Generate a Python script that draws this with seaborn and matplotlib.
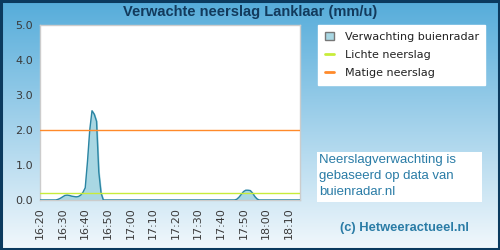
import numpy as np
import pandas as pd
import matplotlib
matplotlib.use("Agg")
import matplotlib.pyplot as plt
import seaborn as sns
from matplotlib.patches import Patch, Rectangle
from matplotlib.lines import Line2D

# ---- data ----
minutes = [0, 5, 7, 8, 9, 10, 11, 12, 13, 14, 15, 16, 17, 18, 19, 20, 21, 22, 23, 24,
           25, 26, 27, 28, 30, 40, 50, 60, 70, 80, 86, 87, 88, 89, 90, 91, 92, 93, 94,
           95, 96, 97, 100, 110, 115]
rain = [0, 0, 0, 0.02, 0.05, 0.09, 0.13, 0.14, 0.13, 0.11, 0.10, 0.09, 0.10, 0.14, 0.22,
        0.35, 1.1, 2.0, 2.55, 2.45, 2.25, 0.8, 0.2, 0, 0, 0, 0, 0, 0, 0, 0, 0.02, 0.08,
        0.16, 0.24, 0.28, 0.28, 0.27, 0.2, 0.1, 0.03, 0, 0, 0, 0]
tick_minutes = [0, 10, 20, 30, 40, 50, 60, 70, 80, 90, 100, 110]
tick_labels = ["16:20", "16:30", "16:40", "16:50", "17:00", "17:10", "17:20", "17:30",
               "17:40", "17:50", "18:00", "18:10"]
light_threshold = 0.2
moderate_threshold = 2.0
title = "Verwachte neerslag Lanklaar (mm/u)"
legend_labels = ["Verwachting buienradar", "Lichte neerslag", "Matige neerslag"]
info_text = "Neerslagverwachting is\ngebaseerd op data van\nbuienradar.nl"
credit = "(c) Hetweeractueel.nl"

df = pd.DataFrame({"t": minutes, "mm": rain})

sns.set_theme(style="white")
plt.rcParams["font.family"] = ["DejaVu Sans"]

fig = plt.figure(figsize=(5, 2.5), dpi=100)

# background gradient
bg = fig.add_axes([0, 0, 1, 1], zorder=-10)
top = np.array([0x55, 0xac, 0xda]) / 255
bot = np.array([0xf2, 0xf8, 0xfc]) / 255
g = np.linspace(0, 1, 256)[:, None]
grad = top[None, None, :] * (1 - g[:, :, None]) + bot[None, None, :] * g[:, :, None]
grad = np.repeat(grad, 2, axis=1)
bg.imshow(grad, aspect="auto", extent=[0, 1, 0, 1], origin="upper")
bg.set_xlim(0, 1); bg.set_ylim(0, 1)
bg.axis("off")
fig.patches.append(Rectangle((0.002, 0.004), 0.996, 0.992, transform=fig.transFigure,
                             fill=False, edgecolor="#0b3a5e", linewidth=2.2, zorder=5))

ax = fig.add_axes([40 / 500, 1 - 200 / 250, 260 / 500, 175 / 250])
ax.set_facecolor("white")
fill_col = "#a9d7e3"
edge_col = "#2b85a3"
ax.fill_between(df["t"], df["mm"], 0, color=fill_col, zorder=2)
sns.lineplot(data=df, x="t", y="mm", ax=ax, color=edge_col, linewidth=1.0, zorder=3)
ax.axhline(light_threshold, color="#c8ec3a", linewidth=1.0, zorder=4)
ax.axhline(moderate_threshold, color="#ff8a2a", linewidth=1.0, zorder=4)

ax.set_xlim(0, 115)
ax.set_ylim(0, 5)
ax.set_xticks(tick_minutes)
ax.set_xticklabels(tick_labels, rotation=90, fontsize=8, color="#3a3a3a")
ax.set_yticks(np.arange(0, 5.01, 1.0))
ax.set_yticklabels([f"{v:.1f}" for v in np.arange(0, 5.01, 1.0)], fontsize=8, color="#3a3a3a")
ax.tick_params(axis="both", length=0, pad=5)
ax.set_xlabel(""); ax.set_ylabel("")
for s in ax.spines.values():
    s.set_color("#cccccc")
    s.set_linewidth(1.0)

fig.text(0.5, 1 - 12 / 250, title, ha="center", va="center", fontsize=10.5,
         fontweight="bold", color="#123a5c", family=["Liberation Sans", "DejaVu Sans"])

handles = [Patch(facecolor=fill_col, edgecolor="#777777", linewidth=1.0),
           Line2D([], [], color="#c8ec3a", linewidth=2),
           Line2D([], [], color="#ff8a2a", linewidth=2)]
leg = fig.legend(handles, legend_labels, loc="upper left",
                 bbox_to_anchor=(318 / 500, 1 - 25 / 250), fontsize=8,
                 frameon=True, fancybox=False, framealpha=1, edgecolor="white",
                 handlelength=0.8, handleheight=0.8, handletextpad=1.0,
                 borderpad=0.6, labelspacing=0.72, borderaxespad=0)
leg.get_frame().set_facecolor("white")
for t in leg.get_texts():
    t.set_color("#222222")

# info box
fig.patches.append(Rectangle((317 / 500, 1 - 202 / 250), 165 / 500, 50 / 250,
                             transform=fig.transFigure, facecolor="white",
                             edgecolor="none", zorder=1))
fig.text(319 / 500, 1 - 154 / 250, info_text, ha="left", va="top", fontsize=9.5,
         color="#2a7ca6", linespacing=1.45, family=["Liberation Sans", "DejaVu Sans"])
fig.text(404 / 500, 1 - 228 / 250, credit, ha="center", va="center", fontsize=9.3,
         fontweight="bold", color="#2a7ca6", family=["Liberation Sans", "DejaVu Sans"])

fig.savefig("out.png", dpi=100)
